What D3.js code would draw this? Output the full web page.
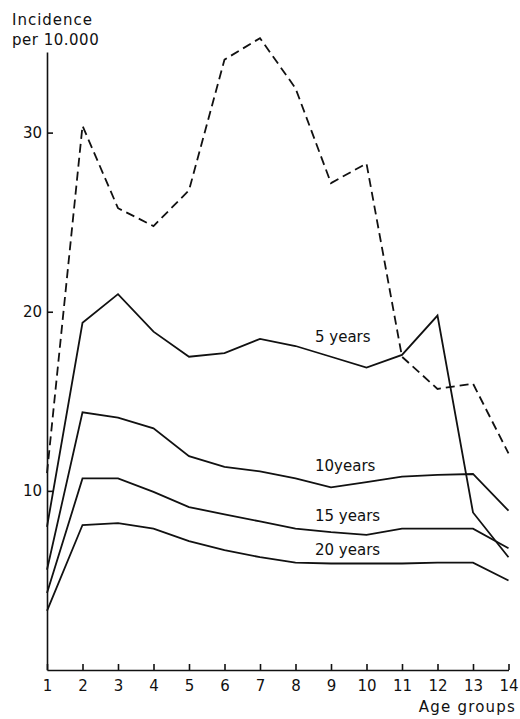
<!DOCTYPE html>
<html>
<head>
<meta charset="utf-8">
<script src="https://cdn.jsdelivr.net/npm/d3@7"></script>
<style>
body { margin: 0; background: #fff; }
text { font-family: "DejaVu Sans", sans-serif; fill: #111; }
</style>
</head>
<body>
<div id="chart"></div>
<script>
var ageGroups = [1, 2, 3, 4, 5, 6, 7, 8, 9, 10, 11, 12, 13, 14];
var yTicks = [10, 20, 30];

// dashed curve (no label)
var total = [11, 30.4, 25.8, 24.8, 26.8, 34.1, 35.3, 32.5, 27.2, 28.3, 17.5, 15.7, 16.0, 12.1];
var years5 = [8.0, 19.4, 21.0, 18.9, 17.5, 17.7, 18.5, 18.1, 17.5, 16.9, 17.6, 19.8, 8.8, 6.3];
var years10 = [5.6, 14.4, 14.1, 13.5, 11.95, 11.35, 11.1, 10.7, 10.2, 10.5, 10.8, 10.9, 10.95, 8.9];
var years15 = [4.3, 10.7, 10.7, 9.95, 9.1, 8.7, 8.3, 7.9, 7.7, 7.55, 7.9, 7.9, 7.9, 6.8];
var years20 = [3.3, 8.1, 8.2, 7.9, 7.2, 6.7, 6.3, 6.0, 5.95, 5.95, 5.95, 6.0, 6.0, 5.0];

var series = [
  { name: "", values: total, dashed: true },
  { name: "5 years", values: years5, dashed: false },
  { name: "10years", values: years10, dashed: false },
  { name: "15 years", values: years15, dashed: false },
  { name: "20 years", values: years20, dashed: false }
];

var w = 520;
var h = 719;

var svg = d3.select("#chart")
            .append("svg")
            .attr("width", w)
            .attr("height", h);

var x = d3.scaleLinear().domain([1, 14]).range([47, 508.5]);
var y = d3.scaleLinear().domain([0, 30]).range([670, 133]);

// y axis, ticks point inward
svg.append("g")
    .attr("transform", "translate(" + x(1) + ",0)")
    .call(d3.axisLeft(y.copy().domain([0, 34.5]).range([670, 52]))
            .tickValues(yTicks)
            .tickSize(-6)
            .tickSizeOuter(0)
            .tickPadding(5));

svg.append("g")
    .attr("transform", "translate(0," + y(0) + ")")
    .call(d3.axisBottom(x)
            .tickValues(ageGroups)
            .tickFormat(d3.format("d"))
            .tickSize(-6)
            .tickSizeOuter(0)
            .tickPadding(10));

svg.selectAll(".domain, .tick line")
    .attr("stroke", "#111")
    .attr("stroke-width", 1.6);
svg.selectAll(".tick text")
    .style("font-size", "15px")
    .style("font-family", "'DejaVu Sans', sans-serif")
    .attr("fill", "#111");

var line = d3.line()
    .x(function(d, i) { return x(ageGroups[i]); })
    .y(function(d) { return y(d); });

svg.selectAll("path.series")
    .data(series)
    .enter()
    .append("path")
    .attr("class", "series")
    .attr("d", function(d) { return line(d.values); })
    .attr("fill", "none")
    .attr("stroke", "#111")
    .attr("stroke-width", 1.8)
    .attr("stroke-dasharray", function(d) {
        if (d.dashed) return "9,5";
        else return null;
    });

// series labels
var labels = [
  { text: "5 years", v: 18.3 },
  { text: "10years", v: 11.1 },
  { text: "15 years", v: 8.3 },
  { text: "20 years", v: 6.4 }
];
svg.selectAll("text.lab")
    .data(labels)
    .enter()
    .append("text")
    .attr("class", "lab")
    .attr("x", 315)
    .attr("y", function(d) { return y(d.v); })
    .style("font-size", "15px")
    .text(function(d) { return d.text; });

svg.append("text")
    .attr("x", 12)
    .attr("y", 25)
    .style("font-size", "15px")
    .style("letter-spacing", "1px")
    .text("Incidence");
svg.append("text")
    .attr("x", 12)
    .attr("y", 45)
    .style("font-size", "15px")
    .style("letter-spacing", "0.5px")
    .text("per 10.000");

svg.append("text")
    .attr("x", 516)
    .attr("y", 712)
    .attr("text-anchor", "end")
    .style("font-size", "15px")
    .style("letter-spacing", "1.2px")
    .text("Age groups");
</script>
</body>
</html>
